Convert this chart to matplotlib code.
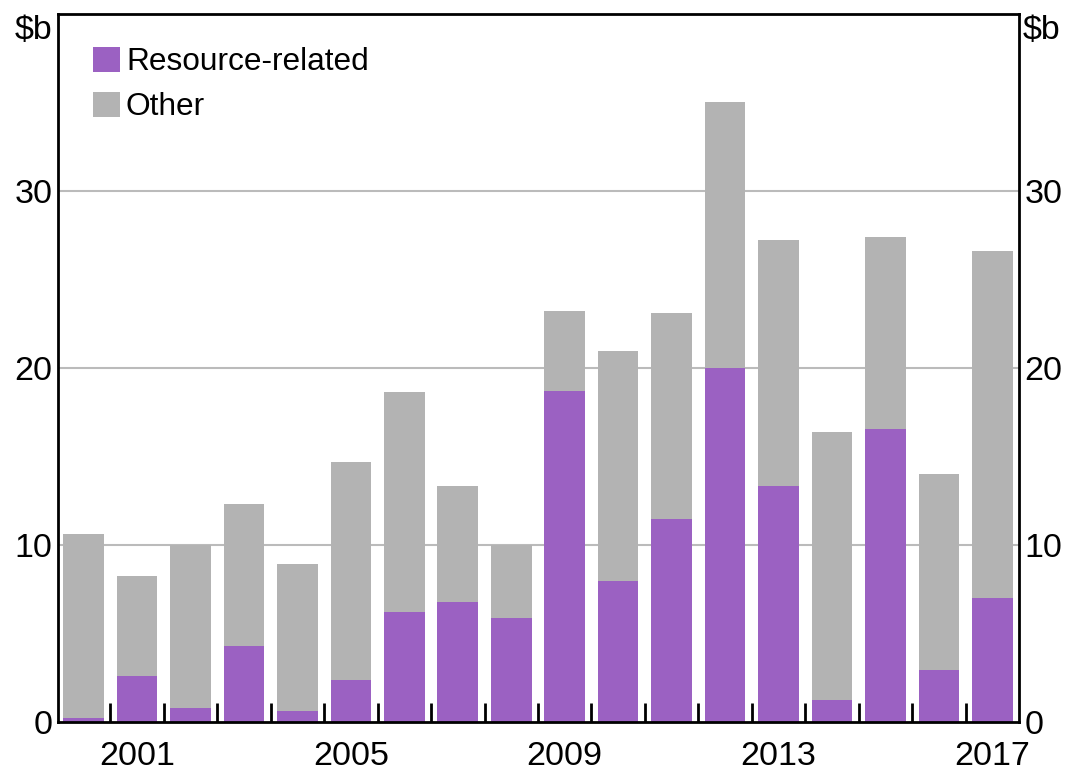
import matplotlib
matplotlib.use("Agg")
import matplotlib.pyplot as plt
import numpy as np

plt.rcParams['font.family'] = ['Liberation Sans', 'DejaVu Sans']

years = list(range(2000, 2018))
resource = [0.25, 2.6, 0.8, 4.3, 0.6, 2.4, 6.2, 6.8, 5.9, 18.7, 7.95, 11.45, 20.0, 13.35, 1.25, 16.55, 2.95, 7.0]
total = [10.6, 8.25, 10.0, 12.3, 8.9, 14.7, 18.65, 13.35, 10.0, 23.2, 20.95, 23.1, 35.05, 27.25, 16.4, 27.4, 14.0, 26.6]
other = [t - r for t, r in zip(total, resource)]
xtick_labels = ['2001', '2005', '2009', '2013', '2017']
ytick_vals = [0, 10, 20, 30]

purple = '#9B61C2'
grey = '#B3B3B3'

fig = plt.figure(figsize=(10.66, 7.73), dpi=100)
ax = fig.add_axes([58/1066, 51/773, (1019-58)/1066, (722-14)/773])

x = np.arange(len(years))
w = 0.76
ax.bar(x, resource, width=w, color=purple, label='Resource-related', zorder=2)
ax.bar(x, other, width=w, bottom=resource, color=grey, label='Other', zorder=2)

ax.set_xlim(-0.48, len(years) - 1 + 0.5)
ax.set_ylim(0, 40)

for v in ytick_vals[1:]:
    ax.axhline(v, color='#BBBBBB', lw=1.5, zorder=1)

ax.set_xticks(x[:-1] + 0.5, minor=True)
ax.tick_params(axis='x', which='minor', direction='in', length=14, width=2, color='black')
label_pos = [years.index(int(s)) for s in xtick_labels]
ax.set_xticks(label_pos)
ax.set_xticklabels(xtick_labels, fontsize=24.5)
ax.tick_params(axis='x', which='major', length=0, pad=14)

ax.set_yticks(ytick_vals)
ax.set_yticklabels([str(v) for v in ytick_vals], fontsize=24.5)
ax.tick_params(axis='y', which='both', length=0, labelleft=True, labelright=True)
ax.tick_params(axis='y', which='major', pad=4)
for lab in ax.get_yticklabels(which='major'):
    pass

for s in ax.spines.values():
    s.set_linewidth(2)
    s.set_color('black')

ax.text(-0.006, 0.998, '$b', transform=ax.transAxes, ha='right', va='top', fontsize=24.5)
ax.text(1.004, 0.998, '$b', transform=ax.transAxes, ha='left', va='top', fontsize=24.5)

ax.legend(loc='upper left', bbox_to_anchor=(0.013, 0.985), frameon=False, fontsize=22.8,
          handlelength=0.85, handleheight=0.85, handletextpad=0.2, labelspacing=0.45,
          borderaxespad=0.3)

fig.savefig('out.png', dpi=100)
